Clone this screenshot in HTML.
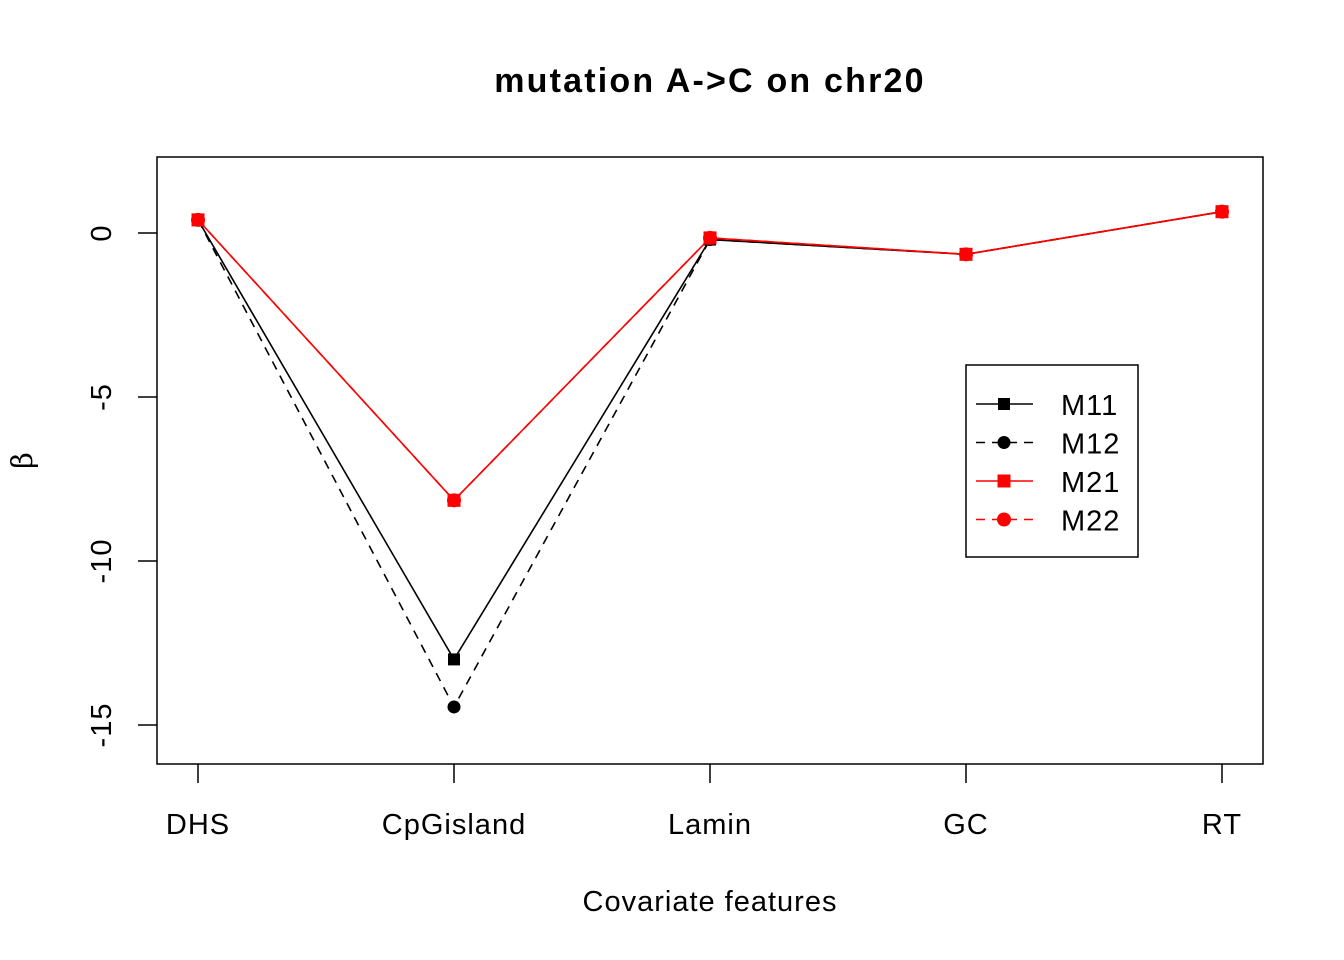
<!DOCTYPE html>
<html><head><meta charset="utf-8"><style>
body{margin:0;background:#fff}
svg{display:block;font-family:"Liberation Sans",Arial,sans-serif}
text{letter-spacing:1px}
</style></head><body>
<svg id="chart" width="1344" height="960" xmlns="http://www.w3.org/2000/svg">
<rect width="1344" height="960" fill="#fff"/>
<text x="710" y="92" text-anchor="middle" font-size="34" font-weight="bold" style="letter-spacing:2.2px">mutation A-&gt;C on chr20</text>
<rect x="157" y="157" width="1106" height="607" fill="none" stroke="#000" stroke-width="1.5"/>
<text x="710" y="911" text-anchor="middle" font-size="29">Covariate features</text>
<text transform="translate(32,460) rotate(-90)" text-anchor="middle" font-size="29" font-family="DejaVu Serif, serif">β</text>
<g id="axes"></g>
<g id="series"></g>
<g>
<rect x="966" y="365" width="172" height="192" fill="#fff" stroke="#000" stroke-width="1.5"/>
<g id="legend-items"></g>
</g>
</svg>
<script>
const categories = ["DHS","CpGisland","Lamin","GC","RT"];
const yTicks = [0,-5,-10,-15];
const seriesNames = ["M11","M12","M21","M22"];
const m11 = [0.4,-13.0,-0.2,-0.65,0.65];
const m12 = [0.4,-14.45,-0.2,-0.65,0.65];
const m21 = [0.4,-8.15,-0.15,-0.65,0.65];
const m22 = [0.4,-8.15,-0.15,-0.65,0.65];

const NS="http://www.w3.org/2000/svg";
function xS(i){return 198+i*256;}
function yS(v){return 233-v*32.8;}
function mk(tag,attrs,parent){const e=document.createElementNS(NS,tag);for(const k in attrs)e.setAttribute(k,attrs[k]);parent.appendChild(e);return e;}
const axes=document.getElementById('axes');
categories.forEach((c,i)=>{
  const t=mk('line',{x1:xS(i),x2:xS(i),y1:764,y2:783,stroke:'#000','stroke-width':1.5},axes);
  
  
  const l=mk('text',{x:xS(i),y:834,'text-anchor':'middle','font-size':29},axes);
  l.textContent=c;
  
  
});
yTicks.forEach(v=>{
  const t=mk('line',{x1:138,x2:157,y1:yS(v),y2:yS(v),stroke:'#000','stroke-width':1.5},axes);
  
  
  const l=mk('text',{transform:`translate(111,${yS(v)}) rotate(-90)`,'text-anchor':'middle','font-size':29},axes);
  l.textContent=String(v);
  
  
});
const styles=[
 {d:m11,c:'#000',dash:'',pch:'sq'},
 {d:m12,c:'#000',dash:'9,7',pch:'ci'},
 {d:m21,c:'#f00',dash:'',pch:'sq'},
 {d:m22,c:'#f00',dash:'9,7',pch:'ci'}];
const sg=document.getElementById('series');
function marker(p,x,y,c,s,name){
  let e;
  if(p==='sq') e=mk('rect',{x:x-s,y:y-s,width:2*s,height:2*s,fill:c},name.parent);
  else e=mk('circle',{cx:x,cy:y,r:s+0.5,fill:c},name.parent);
  
  
}
styles.forEach((s,k)=>{
  const pts=s.d.map((v,i)=>xS(i)+','+yS(v)).join(' ');
  const pl=mk('polyline',{points:pts,fill:'none',stroke:s.c,'stroke-width':1.6,'stroke-dasharray':s.dash},sg);
  
  
  s.d.forEach((v,i)=>marker(s.pch,xS(i),yS(v),s.c,s.c==='#f00'?6.5:6,{parent:sg,n:'point-'+seriesNames[k].toLowerCase()}));
});
const lg=document.getElementById('legend-items');
styles.forEach((s,k)=>{
  const y=404+k*38.5;
  const ln=mk('line',{x1:976,x2:1033,y1:y,y2:y,stroke:s.c,'stroke-width':1.6,'stroke-dasharray':s.dash},lg);
  
  
  marker(s.pch,1004,y,s.c,s.c==='#f00'?6.5:6,{parent:lg,n:'legend-marker'});
  const t=mk('text',{x:1061,y:y+11,'font-size':29},lg);
  t.textContent=seriesNames[k];
  
  
});
</script>
</body></html>
